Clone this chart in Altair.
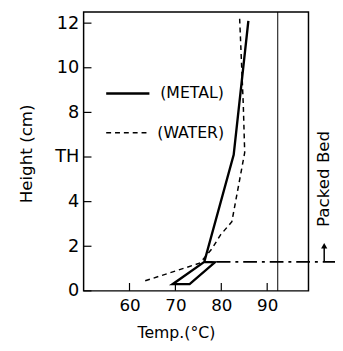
import altair as alt
import pandas as pd

# Metal temperature profile (closed loop at the bottom)
metal_temp = [85.9, 82.7, 76.3, 69.4, 73.1, 78.6, 76.3]
metal_h = [12.1, 6.1, 1.3, 0.3, 0.3, 1.28, 1.3]

# Water temperature profile
water_temp = [84.0, 84.8, 85.1, 82.3, 79.8, 78.0, 75.4, 63.4]
water_h = [12.2, 8.3, 6.2, 3.1, 2.5, 1.9, 1.25, 0.45]

# Packed bed top (dash-dot) and reference vertical line
bed_temp = [79.0, 105.5]
bed_h = [1.3, 1.3]
vline_temp = [92.3]

y_ticks = [0, 2, 4, 6, 8, 10, 12]
x_ticks = [60, 70, 80, 90]

FONT = "DejaVu Sans"
XS = alt.Scale(domain=[50, 99], nice=False, zero=False)
YS = alt.Scale(domain=[0, 12.5], nice=False, zero=False)

metal = pd.DataFrame({"t": metal_temp, "h": metal_h, "o": range(len(metal_temp))})
water = pd.DataFrame({"t": water_temp, "h": water_h, "o": range(len(water_temp))})
bed = pd.DataFrame({"t": bed_temp, "h": bed_h})
vl = pd.DataFrame({"t": vline_temp})
yt = pd.DataFrame({"v": y_ticks})
xt = pd.DataFrame({"v": x_ticks})
one = pd.DataFrame({"a": [0]})

xaxis = alt.Axis(values=x_ticks, ticks=False, domain=False, grid=False,
                 labelFont=FONT, labelFontSize=17, labelColor="black", labelPadding=7,
                 title="Temp.(°C)", titleFont=FONT, titleFontSize=16, titleFontWeight="normal",
                 titleColor="black", titleX=94, titleY=42, titleBaseline="middle", titleAlign="center")
yaxis = alt.Axis(values=y_ticks, ticks=False, domain=False, grid=False,
                 labelExpr="datum.value == 6 ? 'TH' : datum.label",
                 labelFont=FONT, labelFontSize=18, labelColor="black", labelPadding=5,
                 title="Height (cm)", titleFont=FONT, titleFontSize=17, titleFontWeight="normal",
                 titleColor="black", titleX=-58, titleY=144, titleBaseline="middle", titleAlign="center")

metal_l = alt.Chart(metal).mark_line(color="black", strokeWidth=2.4, clip=False).encode(
    x=alt.X("t:Q", scale=XS, axis=xaxis),
    y=alt.Y("h:Q", scale=YS, axis=yaxis),
    order="o:O",
)
water_l = alt.Chart(water).mark_line(color="black", strokeWidth=1.5, strokeDash=[5, 4]).encode(
    x=alt.X("t:Q", scale=XS), y=alt.Y("h:Q", scale=YS), order="o:O"
)
bed_l = alt.Chart(bed).mark_line(color="black", strokeWidth=2, strokeDash=[14, 5, 3, 5], clip=False).encode(
    x=alt.X("t:Q", scale=XS), y=alt.Y("h:Q", scale=YS)
)
v_l = alt.Chart(vl).mark_rule(color="black", strokeWidth=1).encode(x=alt.X("t:Q", scale=XS))

ytick_l = alt.Chart(yt).mark_rule(color="black", strokeWidth=1.2).encode(
    y=alt.Y("v:Q", scale=YS), x=alt.value(0), x2=alt.value(8)
)
xtick_l = alt.Chart(xt).mark_rule(color="black", strokeWidth=1.2).encode(
    x=alt.X("v:Q", scale=XS), y=alt.value(284), y2=alt.value(276)
)

# legend
leg_m = alt.Chart(one).mark_rule(color="black", strokeWidth=2.4).encode(
    x=alt.value(23), x2=alt.value(67), y=alt.value(83))
leg_w = alt.Chart(one).mark_rule(color="black", strokeWidth=1.5, strokeDash=[5, 4]).encode(
    x=alt.value(23), x2=alt.value(66), y=alt.value(123))
leg_mt = alt.Chart(one).mark_text(text="(METAL)", font=FONT, fontSize=16, align="left",
                                  baseline="middle", color="black").encode(
    x=alt.value(78), y=alt.value(83))
leg_wt = alt.Chart(one).mark_text(text="(WATER)", font=FONT, fontSize=16, align="left",
                                  baseline="middle", color="black").encode(
    x=alt.value(75), y=alt.value(123))

# packed bed annotation outside the frame
arrow_l = alt.Chart(one).mark_rule(color="black", strokeWidth=1.5, clip=False).encode(
    x=alt.value(245), y=alt.value(254), y2=alt.value(240))
arrow_h = alt.Chart(one).mark_point(shape="triangle-up", filled=True, color="black", size=40,
                                    opacity=1, clip=False).encode(x=alt.value(245), y=alt.value(238))
pb_text = alt.Chart(one).mark_text(text="Packed Bed", font=FONT, fontSize=17, angle=270,
                                   align="center", baseline="middle", color="black", clip=False).encode(
    x=alt.value(245), y=alt.value(170))

chart = alt.layer(
    metal_l, water_l, bed_l, v_l, ytick_l, xtick_l,
    leg_m, leg_w, leg_mt, leg_wt, arrow_l, arrow_h, pb_text
).properties(
    width=229, height=284,
    autosize=alt.AutoSizeParams(type="none"),
    padding={"left": 77, "top": 1, "right": 27, "bottom": 49},
).configure_view(stroke="black", strokeWidth=1.5)

chart.save("out.html", embed_options={"renderer": "svg", "actions": False})
